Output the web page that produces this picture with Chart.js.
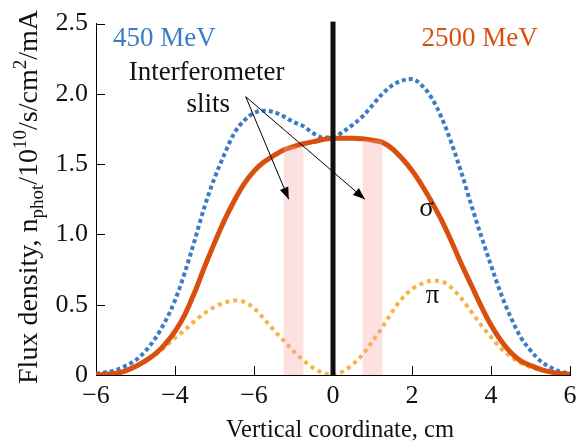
<!DOCTYPE html>
<html>
<head>
<meta charset="utf-8">
<script src="https://cdn.jsdelivr.net/npm/chart.js@4.4.1/dist/chart.umd.min.js"></script>
<style>
  body { margin: 0; background: #fff; }
  #wrap { width: 576px; height: 443px; }
</style>
</head>
<body>
<div id="wrap"><canvas id="myChart"></canvas></div>
<script>
// vertical coordinate, cm
var xCoord = [-6, -5.75, -5.5, -5.25, -5, -4.75, -4.5, -4.25, -4, -3.75, -3.5, -3.25, -3, -2.75, -2.5, -2.25, -2,
    -1.75, -1.5, -1.25, -1, -0.75, -0.5, -0.25, 0, 0.25, 0.5, 0.75, 1, 1.25, 1.5, 1.75, 2,
    2.25, 2.5, 2.75, 3, 3.25, 3.5, 3.75, 4, 4.25, 4.5, 4.75, 5, 5.25, 5.5, 5.75, 6]

// 450 MeV, total
var flux450 = [0.01, 0.02, 0.035, 0.065, 0.105, 0.17, 0.26, 0.38, 0.53, 0.73, 0.96, 1.20, 1.40, 1.57, 1.72, 1.81, 1.865,
    1.88, 1.87, 1.84, 1.80, 1.77, 1.72, 1.69, 1.69, 1.73, 1.78, 1.84, 1.92, 2.00, 2.06, 2.095, 2.105,
    2.06, 1.97, 1.83, 1.65, 1.44, 1.21, 0.99, 0.78, 0.58, 0.41, 0.27, 0.175, 0.10, 0.055, 0.025, 0.01]

// 2500 MeV, sigma
var flux2500 = [0.0, 0.005, 0.012, 0.03, 0.06, 0.10, 0.15, 0.22, 0.31, 0.43, 0.59, 0.77, 0.94, 1.10, 1.24, 1.36, 1.45,
    1.515, 1.56, 1.60, 1.625, 1.645, 1.66, 1.675, 1.685, 1.685, 1.685, 1.68, 1.67, 1.655, 1.61, 1.54, 1.455,
    1.35, 1.23, 1.10, 0.95, 0.79, 0.64, 0.49, 0.355, 0.245, 0.16, 0.10, 0.068, 0.04, 0.022, 0.01, 0.005]

// 2500 MeV, pi
var fluxPi = [0.0, 0.003, 0.008, 0.03, 0.06, 0.10, 0.145, 0.20, 0.265, 0.32, 0.385, 0.44, 0.485, 0.515, 0.53, 0.52, 0.475,
    0.40, 0.32, 0.245, 0.17, 0.105, 0.05, 0.015, 0.0, 0.025, 0.075, 0.145, 0.24, 0.34, 0.45, 0.545, 0.61,
    0.65, 0.67, 0.665, 0.62, 0.545, 0.45, 0.355, 0.27, 0.19, 0.13, 0.085, 0.055, 0.035, 0.022, 0.012, 0.005]

var xTickLabels = ['\u22126', '\u22124', '\u22126', '0', '2', '4', '6']
var yTickLabels = ['0', '0.5', '1.0', '1.5', '2.0', '2.5']
var slitBands = [[-1.25, -0.75], [0.75, 1.25]]

const FONT = "'Liberation Serif', 'DejaVu Serif', serif"

function toPoints(xs, ys) {
    return xs.map((v, i) => ({x: v, y: ys[i]}))
}

// value of a series at the x closest to v
function valueAt(ys, v) {
    let best = 0
    for (let i = 0; i < xCoord.length; i++) {
        if (Math.abs(xCoord[i] - v) < Math.abs(xCoord[best] - v)) best = i
    }
    return ys[best]
}

function arrow(ctx, x0, y0, x1, y1) {
    ctx.beginPath()
    ctx.moveTo(x0, y0)
    ctx.lineTo(x1, y1)
    ctx.stroke()
    const a = Math.atan2(y1 - y0, x1 - x0)
    const len = 12, w = 4.5
    ctx.beginPath()
    ctx.moveTo(x1, y1)
    ctx.lineTo(x1 - len * Math.cos(a) + w * Math.sin(a), y1 - len * Math.sin(a) - w * Math.cos(a))
    ctx.lineTo(x1 - len * Math.cos(a) - w * Math.sin(a), y1 - len * Math.sin(a) + w * Math.cos(a))
    ctx.closePath()
    ctx.fill()
}

const overlay = {
    id: 'overlay',
    afterDatasetsDraw(chart) {
        const ctx = chart.ctx
        const area = chart.chartArea
        const x = chart.scales.x, y = chart.scales.y
        ctx.save()

        // interferometer slits
        ctx.fillStyle = 'rgba(250,165,165,0.33)'
        slitBands.forEach(b => {
            const x0 = x.getPixelForValue(b[0]), x1 = x.getPixelForValue(b[1])
            const top = y.getPixelForValue(valueAt(flux2500, (b[0] + b[1]) / 2))
            ctx.fillRect(x0, top, x1 - x0, y.getPixelForValue(0) - top)
        })

        // thick line at 0
        ctx.fillStyle = '#111'
        const x0 = x.getPixelForValue(0)
        ctx.fillRect(x0 - 2.5, area.top - 2, 5, area.bottom - area.top + 2)

        // inward ticks
        ctx.strokeStyle = '#000'
        ctx.lineWidth = 1
        ctx.beginPath()
        for (let v = 0.5; v <= 2.5; v += 0.5) {
            const py = Math.round(y.getPixelForValue(v)) + 0.5
            ctx.moveTo(area.left, py)
            ctx.lineTo(area.left + 9, py)
        }
        for (let v = -4; v <= 6; v += 2) {
            const px = Math.round(x.getPixelForValue(v)) + 0.5
            ctx.moveTo(px, area.bottom)
            ctx.lineTo(px, area.bottom - 9)
        }
        ctx.stroke()

        // arrows
        ctx.fillStyle = '#000'
        const sx = x.getPixelForValue(-2.21), sy = y.getPixelForValue(1.98)
        arrow(ctx, sx, sy, x.getPixelForValue(-1.12), y.getPixelForValue(1.25))
        arrow(ctx, sx, sy, x.getPixelForValue(0.81), y.getPixelForValue(1.25))

        // labels
        ctx.textAlign = 'center'
        ctx.textBaseline = 'alphabetic'
        ctx.font = '27px ' + FONT
        ctx.fillStyle = '#3d7cc4'
        ctx.fillText('450 MeV', x.getPixelForValue(-4.27), y.getPixelForValue(2.34))
        ctx.fillStyle = '#d9500e'
        ctx.fillText('2500 MeV', x.getPixelForValue(3.71), y.getPixelForValue(2.34))
        ctx.fillStyle = '#111'
        ctx.fillText('Interferometer', x.getPixelForValue(-3.2), y.getPixelForValue(2.1))
        ctx.fillText('slits', x.getPixelForValue(-3.16), y.getPixelForValue(1.87))
        ctx.fillText('\u03c3', x.getPixelForValue(2.37), y.getPixelForValue(1.13))
        ctx.fillText('\u03c0', x.getPixelForValue(2.52), y.getPixelForValue(0.51))

        // x title
        ctx.font = '24.5px ' + FONT
        ctx.fillText('Vertical coordinate, cm', (area.left + area.right) / 2 + 7, 437)

        // y title with sub/superscripts
        const parts = [
            {t: 'Flux density, n', s: 28, dy: 0},
            {t: 'phot', s: 19, dy: 6},
            {t: '/10', s: 28, dy: 0},
            {t: '10', s: 19, dy: -11},
            {t: '/s/cm', s: 28, dy: 0},
            {t: '2', s: 19, dy: -11},
            {t: '/mA', s: 28, dy: 0}
        ]
        let total = 0
        parts.forEach(p => { ctx.font = p.s + 'px ' + FONT; p.w = ctx.measureText(p.t).width; total += p.w })
        ctx.translate(37, 197)
        ctx.rotate(-Math.PI / 2)
        ctx.textAlign = 'left'
        let cx = -total / 2
        parts.forEach(p => {
            ctx.font = p.s + 'px ' + FONT
            ctx.fillText(p.t, cx, p.dy)
            cx += p.w
        })
        ctx.restore()
    }
}

new Chart(document.getElementById('myChart'), {
    type: 'line',
    data: {
        datasets: [
            {label: '2500 MeV σ', data: toPoints(xCoord, flux2500), borderColor: '#d9500e',
                borderWidth: 5, pointRadius: 0, cubicInterpolationMode: 'monotone'},
            {label: '450 MeV', data: toPoints(xCoord, flux450), borderColor: '#3d7cc4',
                borderWidth: 4, borderDash: [4, 3], pointRadius: 0, cubicInterpolationMode: 'monotone'},
            {label: '2500 MeV π', data: toPoints(xCoord, fluxPi), borderColor: '#f8b248',
                borderWidth: 4, borderDash: [4, 4], pointRadius: 0, cubicInterpolationMode: 'monotone'}
        ]
    },
    options: {
        responsive: true,
        maintainAspectRatio: false,
        animation: false,
        layout: {padding: {top: 16, right: 2, left: 0, bottom: 0}},
        plugins: {legend: {display: false}, tooltip: {enabled: false}},
        scales: {
            x: {
                type: 'linear', min: -6, max: 6,
                grid: {display: false, drawTicks: false},
                border: {display: true, color: '#000', width: 1},
                ticks: {
                    stepSize: 2, padding: 6, color: '#111', font: {family: FONT, size: 26},
                    maxRotation: 0,
                    callback: (v) => xTickLabels[Math.round((v + 6) / 2)]
                },
                afterFit: (s) => { s.height = 68; s.paddingRight = 6; s.paddingLeft = 0 }
            },
            y: {
                min: 0, max: 2.5,
                grid: {display: false, drawTicks: false},
                border: {display: true, color: '#000', width: 1},
                ticks: {
                    stepSize: 0.5, padding: 8, color: '#111', font: {family: FONT, size: 26},
                    callback: (v) => yTickLabels[Math.round(v * 2)]
                },
                afterFit: (s) => { s.width = 96 }
            }
        }
    },
    plugins: [overlay]
});
</script>
</body>
</html>
